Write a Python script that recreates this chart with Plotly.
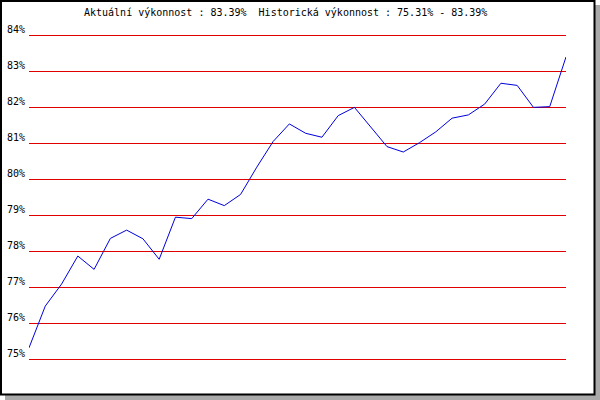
import plotly.graph_objects as go

# Data
performance = [75.31, 76.47, 77.08, 77.86, 77.49, 78.35, 78.58, 78.34, 77.77, 78.94,
               78.90, 79.44, 79.26, 79.57, 80.33, 81.04, 81.53, 81.27, 81.16, 81.76,
               81.99, 81.44, 80.90, 80.75, 81.01, 81.31, 81.69, 81.78, 82.08, 82.66,
               82.60, 81.99, 82.01, 83.39]
periods = list(range(len(performance)))
tick_values = [75, 76, 77, 78, 79, 80, 81, 82, 83, 84]
tick_labels = [f"{v}%" for v in tick_values]
title_text = "Aktuální výkonnost : 83.39%  Historická výkonnost : 75.31% - 83.39%"

W, H = 600, 400
PAD_PX = 3
L, R, T, B = 29, 34, 35 - PAD_PX, 41 - PAD_PX
PW, PH = W - L - R, H - T - B
PAD = PAD_PX / 36  # a few pixels of value so the 75% and 84% grid lines are drawn


def px_x(p):
    return (p - L) / PW


def px_y(p):
    return (H - B - p) / PH


FONT = dict(family="DejaVu Sans Mono", size=10, color="black")

fig = go.Figure()
fig.add_trace(go.Scatter(x=periods, y=performance, mode="lines",
                         line=dict(color="#0000dd", width=1), hoverinfo="skip"))

shapes = [
    # shadow
    dict(type="rect", xref="paper", yref="paper", layer="below",
         x0=px_x(5), x1=px_x(600), y0=px_y(5), y1=px_y(400),
         fillcolor="#aaaaaa", line=dict(width=0)),
    # frame
    dict(type="rect", xref="paper", yref="paper", layer="below",
         x0=px_x(1), x1=px_x(594.5), y0=px_y(1), y1=px_y(394.5),
         fillcolor="white", line=dict(color="black", width=2)),
]

annotations = [dict(xref="paper", yref="y", x=0, y=v, text=t, showarrow=False,
                    xanchor="right", yanchor="middle", xshift=-2, yshift=6, font=FONT)
               for v, t in zip(tick_values, tick_labels)]
annotations.append(dict(xref="paper", yref="paper", x=px_x(82), y=px_y(12.5),
                        text=title_text, showarrow=False, xanchor="left",
                        yanchor="middle", font=FONT))

fig.update_layout(
    width=W, height=H,
    margin=dict(l=L, r=R, t=T, b=B, pad=0),
    paper_bgcolor="white", plot_bgcolor="rgba(0,0,0,0)",
    showlegend=False,
    shapes=shapes, annotations=annotations,
    xaxis=dict(range=[0, len(performance) - 1], visible=False, fixedrange=True),
    yaxis=dict(range=[tick_values[0] - PAD, tick_values[-1] + PAD], showgrid=True,
               gridcolor="#e00000", gridwidth=1,
               tickvals=tick_values, zeroline=False, showticklabels=False,
               ticks="", showline=False, fixedrange=True),
)

fig.write_html("out.html", config={"displayModeBar": False},
               post_script="document.body.style.margin='0';document.body.style.overflow='hidden';")
